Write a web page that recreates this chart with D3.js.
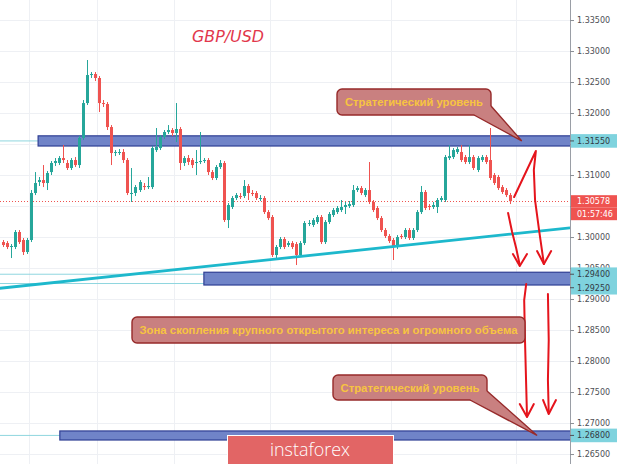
<!DOCTYPE html>
<html>
<head>
<meta charset="utf-8">
<script src="https://cdn.jsdelivr.net/npm/d3@7"></script>
<style>
  html, body { margin: 0; padding: 0; background: #fff; overflow: hidden; }
  svg { display: block; }
</style>
</head>
<body>
<svg id="chart" width="620" height="464"></svg>
<script>
// GBP/USD candles, one row per bar: [open, high, low, close]
const candles = [
  [1.29919, 1.29952, 1.29839, 1.29871], [1.29903, 1.29935, 1.29806, 1.29839],
  [1.29839, 1.29887, 1.29661, 1.29855], [1.29839, 1.30113, 1.29806, 1.30081],
  [1.30081, 1.30113, 1.29887, 1.29919], [1.29952, 1.29984, 1.29710, 1.29758],
  [1.29758, 1.29984, 1.29726, 1.29952], [1.29952, 1.30758, 1.29919, 1.30710],
  [1.30710, 1.31048, 1.30677, 1.30871], [1.30887, 1.30968, 1.30823, 1.30919],
  [1.30919, 1.31161, 1.30806, 1.30871], [1.30871, 1.31065, 1.30758, 1.31032],
  [1.31048, 1.31226, 1.31000, 1.31194], [1.31194, 1.31274, 1.31145, 1.31226],
  [1.31194, 1.31306, 1.31161, 1.31274], [1.31274, 1.31484, 1.31194, 1.31242],
  [1.31194, 1.31242, 1.31081, 1.31113], [1.31113, 1.31274, 1.31081, 1.31242],
  [1.31242, 1.31290, 1.31129, 1.31161], [1.31161, 1.31629, 1.31113, 1.31597],
  [1.31597, 1.32210, 1.31565, 1.32161], [1.32161, 1.32855, 1.32129, 1.32613],
  [1.32613, 1.32661, 1.32565, 1.32629], [1.32629, 1.32661, 1.32516, 1.32565],
  [1.32565, 1.32597, 1.32016, 1.32161], [1.32161, 1.32210, 1.32097, 1.32145],
  [1.32145, 1.32177, 1.31726, 1.31774], [1.31774, 1.31806, 1.31161, 1.31355],
  [1.31355, 1.31403, 1.31306, 1.31371], [1.31355, 1.31419, 1.31323, 1.31371],
  [1.31371, 1.31419, 1.31194, 1.31242], [1.31242, 1.31274, 1.30677, 1.30710],
  [1.30694, 1.31113, 1.30565, 1.30710], [1.30710, 1.30839, 1.30661, 1.30806],
  [1.30758, 1.30919, 1.30726, 1.30887], [1.30823, 1.30871, 1.30758, 1.30806],
  [1.30806, 1.30968, 1.30774, 1.30823], [1.30806, 1.31468, 1.30774, 1.31435],
  [1.31403, 1.31758, 1.31371, 1.31452], [1.31435, 1.31645, 1.31403, 1.31613],
  [1.31613, 1.31726, 1.31581, 1.31694], [1.31694, 1.31806, 1.31661, 1.31726],
  [1.31726, 1.31758, 1.31629, 1.31677], [1.31677, 1.32161, 1.31532, 1.31742],
  [1.31742, 1.31774, 1.31081, 1.31194], [1.31194, 1.31306, 1.31145, 1.31274],
  [1.31274, 1.31323, 1.31161, 1.31210], [1.31242, 1.31274, 1.31113, 1.31161],
  [1.31194, 1.31403, 1.31000, 1.31210], [1.31210, 1.31694, 1.31177, 1.31226],
  [1.31226, 1.31274, 1.31194, 1.31242], [1.31242, 1.31274, 1.31000, 1.31048],
  [1.31048, 1.31081, 1.30919, 1.30952], [1.30952, 1.31161, 1.30919, 1.31129],
  [1.31129, 1.31242, 1.31097, 1.31194], [1.31194, 1.31226, 1.30242, 1.30274],
  [1.30274, 1.30548, 1.30145, 1.30516], [1.30484, 1.30661, 1.30452, 1.30629],
  [1.30629, 1.30710, 1.30597, 1.30677], [1.30661, 1.30710, 1.30613, 1.30645],
  [1.30661, 1.30919, 1.30629, 1.30823], [1.30823, 1.30855, 1.30597, 1.30710],
  [1.30710, 1.30758, 1.30661, 1.30694], [1.30710, 1.30742, 1.30597, 1.30629],
  [1.30613, 1.30677, 1.30581, 1.30629], [1.30629, 1.30661, 1.30371, 1.30403],
  [1.30403, 1.30435, 1.30274, 1.30306], [1.30323, 1.30355, 1.29677, 1.29710],
  [1.29710, 1.29871, 1.29661, 1.29839], [1.29839, 1.30000, 1.29806, 1.29968],
  [1.29968, 1.30000, 1.29806, 1.29839], [1.29871, 1.29935, 1.29839, 1.29903],
  [1.29903, 1.29935, 1.29806, 1.29839], [1.29887, 1.29919, 1.29548, 1.29710],
  [1.29710, 1.29935, 1.29677, 1.29903], [1.29903, 1.30258, 1.29871, 1.30226],
  [1.30210, 1.30274, 1.30177, 1.30226], [1.30194, 1.30306, 1.30161, 1.30274],
  [1.30242, 1.30355, 1.30210, 1.30323], [1.30323, 1.30355, 1.29887, 1.29919],
  [1.29919, 1.30274, 1.29887, 1.30242], [1.30242, 1.30403, 1.30210, 1.30371],
  [1.30355, 1.30468, 1.30323, 1.30435], [1.30403, 1.30500, 1.30371, 1.30468],
  [1.30435, 1.30597, 1.30403, 1.30484], [1.30484, 1.30565, 1.30371, 1.30516],
  [1.30500, 1.30581, 1.30468, 1.30532], [1.30516, 1.30839, 1.30484, 1.30758],
  [1.30758, 1.30823, 1.30726, 1.30790], [1.30790, 1.30823, 1.30677, 1.30710],
  [1.30677, 1.30790, 1.30645, 1.30758], [1.30758, 1.31210, 1.30532, 1.30565],
  [1.30565, 1.30597, 1.30403, 1.30435], [1.30468, 1.30500, 1.30274, 1.30306],
  [1.30306, 1.30339, 1.30081, 1.30113], [1.30113, 1.30145, 1.29984, 1.30016],
  [1.30016, 1.30048, 1.29903, 1.29935], [1.29952, 1.29984, 1.29629, 1.29839],
  [1.29839, 1.30032, 1.29806, 1.30000], [1.30016, 1.30048, 1.29968, 1.30000],
  [1.30000, 1.30145, 1.29968, 1.30113], [1.30113, 1.30145, 1.29952, 1.29984],
  [1.29984, 1.30145, 1.29952, 1.30113], [1.30113, 1.30435, 1.30081, 1.30403],
  [1.30403, 1.30823, 1.30371, 1.30726], [1.30726, 1.30758, 1.30435, 1.30468],
  [1.30500, 1.30532, 1.30435, 1.30484], [1.30484, 1.30565, 1.30452, 1.30516],
  [1.30484, 1.30629, 1.30387, 1.30597], [1.30597, 1.30661, 1.30565, 1.30629],
  [1.30597, 1.31323, 1.30565, 1.31290], [1.31274, 1.31484, 1.31242, 1.31306],
  [1.31290, 1.31435, 1.31258, 1.31403], [1.31371, 1.31452, 1.31339, 1.31419],
  [1.31371, 1.31484, 1.31210, 1.31242], [1.31290, 1.31323, 1.31177, 1.31210],
  [1.31210, 1.31484, 1.31177, 1.31290], [1.31290, 1.31323, 1.31081, 1.31113],
  [1.31081, 1.31306, 1.31048, 1.31274], [1.31242, 1.31323, 1.31210, 1.31290],
  [1.31290, 1.31323, 1.31177, 1.31210], [1.31242, 1.31758, 1.30919, 1.30952],
  [1.31000, 1.31032, 1.30839, 1.30871], [1.30968, 1.31000, 1.30758, 1.30790],
  [1.30806, 1.30839, 1.30694, 1.30726], [1.30758, 1.30790, 1.30645, 1.30677],
  [1.30677, 1.30710, 1.30532, 1.30578]
];

// Price axis
const priceTicks = [1.265, 1.27, 1.275, 1.28, 1.285, 1.29, 1.295, 1.30, 1.305,
                    1.31, 1.315, 1.32, 1.325, 1.33, 1.335];
const lastPrice = 1.30578;
const countdown = "01:57:46";

// Session separators (bar positions)
const sessionBreaks = [6.5, 23.5, 42.5, 66.5, 96.5, 127.5];

// Marked levels and their zones
const levels = [1.3155, 1.294, 1.2925, 1.268];
const levelLabels = ["1.31550", "1.29400", "1.29250", "1.26800"];
const zoneStart = [8.8, 50.0, 14.2];
const zoneTop = [1.31632, 1.29432, 1.26872];
const zoneBottom = [1.31468, 1.29226, 1.26726];

// Rising support line: [bar, price]
const trendLine = [[-1, 1.29171], [141, 1.30148]];

// Hand-drawn forecast arrows: shaft and head, [bar, price]
const arrowShafts = [
  [[127.1, 1.30645], [132.5, 1.31387], [132.0, 1.31081], [132.3, 1.30597], [133.3, 1.30113], [134.5, 1.29565]],
  [[125.6, 1.30387], [126.6, 1.30081], [127.6, 1.29823], [128.5, 1.29548]],
  [[130.1, 1.29242], [129.6, 1.28984], [129.8, 1.28339], [130.3, 1.27113]],
  [[135.5, 1.29081], [135.7, 1.28339], [135.5, 1.27694], [135.7, 1.27161]]
];
const arrowHeads = [
  [[132.8, 1.29774], [134.5, 1.29565], [136.3, 1.29774]],
  [[126.8, 1.29726], [128.5, 1.29532], [130.3, 1.29726]],
  [[128.5, 1.27306], [130.3, 1.27097], [132.0, 1.27306]],
  [[134.3, 1.27371], [135.7, 1.27145], [137.5, 1.27371]]
];

const title = "GBP/USD";
const calloutTexts = ["Стратегический уровень",
  "Зона скопления крупного открытого интереса и огромного объема",
  "Стратегический уровень"];
const brand = "instaforex";

// ---------------------------------------------------------------
const W = 620, H = 464, plotRight = 570;
const svg = d3.select("#chart");

const x = d3.scaleLinear().domain([0, candles.length - 1]).range([2.7, 509.7]);
const y = d3.scaleLinear().domain([1.26339, 1.33823]).range([H, 0]);

const UP = "#26a69a", DOWN = "#ef5350";

svg.append("rect").attr("width", W).attr("height", H).attr("fill", "#fff");

svg.append("defs").append("clipPath").attr("id", "plot")
  .append("rect").attr("x", 0).attr("y", 0).attr("width", plotRight).attr("height", H);

const plot = svg.append("g").attr("clip-path", "url(#plot)");

// grid
plot.append("g").selectAll("line").data(priceTicks).join("line")
  .attr("x1", 0).attr("x2", plotRight)
  .attr("y1", d => Math.round(y(d)) + 0.5).attr("y2", d => Math.round(y(d)) + 0.5)
  .attr("stroke", "#eef0f4").attr("stroke-width", 1);
plot.append("g").selectAll("line").data(sessionBreaks).join("line")
  .attr("x1", d => Math.round(x(d)) + 0.5).attr("x2", d => Math.round(x(d)) + 0.5)
  .attr("y1", 0).attr("y2", H)
  .attr("stroke", "#eef0f4").attr("stroke-width", 1);

// level lines
plot.append("g").selectAll("line").data(levels).join("line")
  .attr("x1", 0).attr("x2", plotRight)
  .attr("y1", d => y(d)).attr("y2", d => y(d))
  .attr("stroke", "#8fd6df").attr("stroke-width", 1);

// last price dotted line
plot.append("line")
  .attr("x1", 0).attr("x2", plotRight)
  .attr("y1", Math.round(y(lastPrice)) + 0.5).attr("y2", Math.round(y(lastPrice)) + 0.5)
  .attr("stroke", "#ef5350").attr("stroke-width", 1).attr("stroke-dasharray", "1,2");

// zones
plot.append("g").selectAll("rect").data(zoneStart).join("rect")
  .attr("x", d => x(d))
  .attr("y", (d, i) => y(zoneTop[i]))
  .attr("width", d => plotRight + 2 - x(d))
  .attr("height", (d, i) => y(zoneBottom[i]) - y(zoneTop[i]))
  .attr("fill", "#7084c8").attr("stroke", "#2f3f94").attr("stroke-width", 1.2);

// candles
const cg = plot.append("g");
cg.selectAll("line").data(candles).join("line")
  .attr("x1", (d, i) => Math.round(x(i)) + 0.5).attr("x2", (d, i) => Math.round(x(i)) + 0.5)
  .attr("y1", d => y(d[1])).attr("y2", d => y(d[2]))
  .attr("stroke", d => d[3] >= d[0] ? UP : DOWN).attr("stroke-width", 1);
cg.selectAll("rect").data(candles).join("rect")
  .attr("x", (d, i) => Math.round(x(i)) - 1)
  .attr("y", d => y(Math.max(d[0], d[3])))
  .attr("width", 3)
  .attr("height", d => Math.max(1, Math.abs(y(d[0]) - y(d[3]))))
  .attr("fill", d => d[3] >= d[0] ? UP : DOWN);

// trend line
const line = d3.line().x(d => x(d[0])).y(d => y(d[1]));
plot.append("path").datum(trendLine).attr("d", line)
  .attr("fill", "none").attr("stroke", "#1db8cc").attr("stroke-width", 2.8);

// forecast arrows
const ag = svg.append("g").attr("fill", "none").attr("stroke", "#e5141c")
  .attr("stroke-width", 2).attr("stroke-linecap", "round").attr("stroke-linejoin", "round");
ag.selectAll("path.shaft").data(arrowShafts).join("path").attr("class", "shaft").attr("d", line);
ag.selectAll("path.head").data(arrowHeads).join("path").attr("class", "head").attr("d", line);

// callouts
const CALL_FILL = "#c98080", CALL_STROKE = "#962a2a", CALL_TEXT = "#f7c441";
function callout(box, base, tipPrice, tipBar, text, len) {
  const g = svg.append("g");
  g.append("rect").attr("x", box[0]).attr("y", box[1]).attr("width", box[2]).attr("height", box[3])
    .attr("rx", 5).attr("fill", CALL_FILL).attr("stroke", CALL_STROKE).attr("stroke-width", 1.4);
  if (base) {
    const tip = [x(tipBar), y(tipPrice)];
    g.append("path").attr("d", d3.line()([base[0], tip, base[1], base[2]]))
      .attr("fill", CALL_FILL);
    g.append("path").attr("d", d3.line()([base[0], tip, base[1]]))
      .attr("fill", "none").attr("stroke", CALL_STROKE).attr("stroke-width", 1.4);
  }
  g.append("text").attr("x", box[0] + box[2] / 2).attr("y", box[1] + box[3] / 2 + 4)
    .attr("text-anchor", "middle").attr("font-family", "'Liberation Sans', Arial, sans-serif")
    .attr("font-weight", "bold").attr("font-size", 11).attr("fill", CALL_TEXT)
    .attr("textLength", len).attr("lengthAdjust", "spacingAndGlyphs")
    .text(text);
}
callout([337, 89, 154, 26], [[474, 115], [491, 106], [478, 108]], levels[0], 129.0, calloutTexts[0], 138);
callout([132, 317, 393, 26], null, null, null, calloutTexts[1], 378);
callout([333, 375, 154, 25], [[470, 400], [487, 391], [474, 393]], levels[3], 132.8, calloutTexts[2], 139);

// title
svg.append("text").attr("x", 228).attr("y", 42).attr("text-anchor", "middle")
  .attr("font-family", "'DejaVu Sans', sans-serif").attr("font-style", "italic")
  .attr("font-size", 15).attr("fill", "#e2384c")
  .attr("textLength", 72).attr("lengthAdjust", "spacingAndGlyphs")
  .text(title);

// brand plate
svg.append("rect").attr("x", 227.5).attr("y", 435.5).attr("width", 166).attr("height", 32)
  .attr("fill", "#e26565").attr("stroke", "#fff").attr("stroke-width", 1);
svg.append("text").attr("x", 310).attr("y", 456).attr("text-anchor", "middle")
  .attr("font-family", "'Open Sans', sans-serif").attr("font-weight", 300)
  .attr("font-size", 19).attr("fill", "#fff")
  .attr("textLength", 80).attr("lengthAdjust", "spacingAndGlyphs")
  .text(brand);

// price axis; ticks fully covered by the marked-price labels are left without text
const axisG = svg.append("g").attr("transform", `translate(${plotRight},0)`);
axisG.append("rect").attr("x", 0).attr("y", 0).attr("width", W - plotRight).attr("height", H).attr("fill", "#fff");
const covered = [lastPrice, levels[0]];
axisG.call(d3.axisRight(y).tickValues(priceTicks).tickSize(4).tickPadding(3)
  .tickFormat(d => covered.some(c => Math.abs(y(c) - y(d)) < 5) ? "" : d3.format(".5f")(d)));
axisG.select(".domain").attr("stroke", "#9a9ea6").attr("d", `M0.5,0V${H}`);
axisG.selectAll(".tick line").attr("stroke", "#8c9096");
axisG.selectAll(".tick text").attr("fill", "#4d4f55")
  .attr("font-family", "'DejaVu Sans', sans-serif").attr("font-size", 8);

// highlighted level labels, stacked to avoid overlap
let prevY = -100;
const levelPos = levels.map(p => {
  let yy = y(p);
  if (yy - prevY < 13.5) yy = prevY + 13.5;
  prevY = yy;
  return yy;
});
const lab = axisG.append("g");
levels.forEach((p, i) => {
  lab.append("rect").attr("x", 1).attr("y", levelPos[i] - 6.8).attr("width", 46).attr("height", 13.6)
    .attr("fill", "#7fd3de");
  lab.append("line").attr("x1", 0).attr("x2", 4).attr("y1", levelPos[i]).attr("y2", levelPos[i])
    .attr("stroke", "#4d4f55");
  lab.append("text").attr("x", 7).attr("y", levelPos[i] + 3)
    .attr("font-family", "'DejaVu Sans', sans-serif").attr("font-size", 8).attr("fill", "#333a44")
    .text(levelLabels[i]);
});

// last price and countdown
const ly = y(lastPrice);
lab.append("rect").attr("x", 1).attr("y", ly - 6).attr("width", 46).attr("height", 12.5).attr("fill", "#ef5350");
lab.append("rect").attr("x", 1).attr("y", ly + 6.5).attr("width", 46).attr("height", 12.5).attr("fill", "#ef5350");
lab.append("text").attr("x", 7).attr("y", ly + 3)
  .attr("font-family", "'DejaVu Sans', sans-serif").attr("font-size", 8).attr("fill", "#fff")
  .text(d3.format(".5f")(lastPrice));
lab.append("text").attr("x", 7).attr("y", ly + 15.5)
  .attr("font-family", "'DejaVu Sans', sans-serif").attr("font-size", 8).attr("fill", "#fff")
  .text(countdown);
</script>
</body>
</html>
